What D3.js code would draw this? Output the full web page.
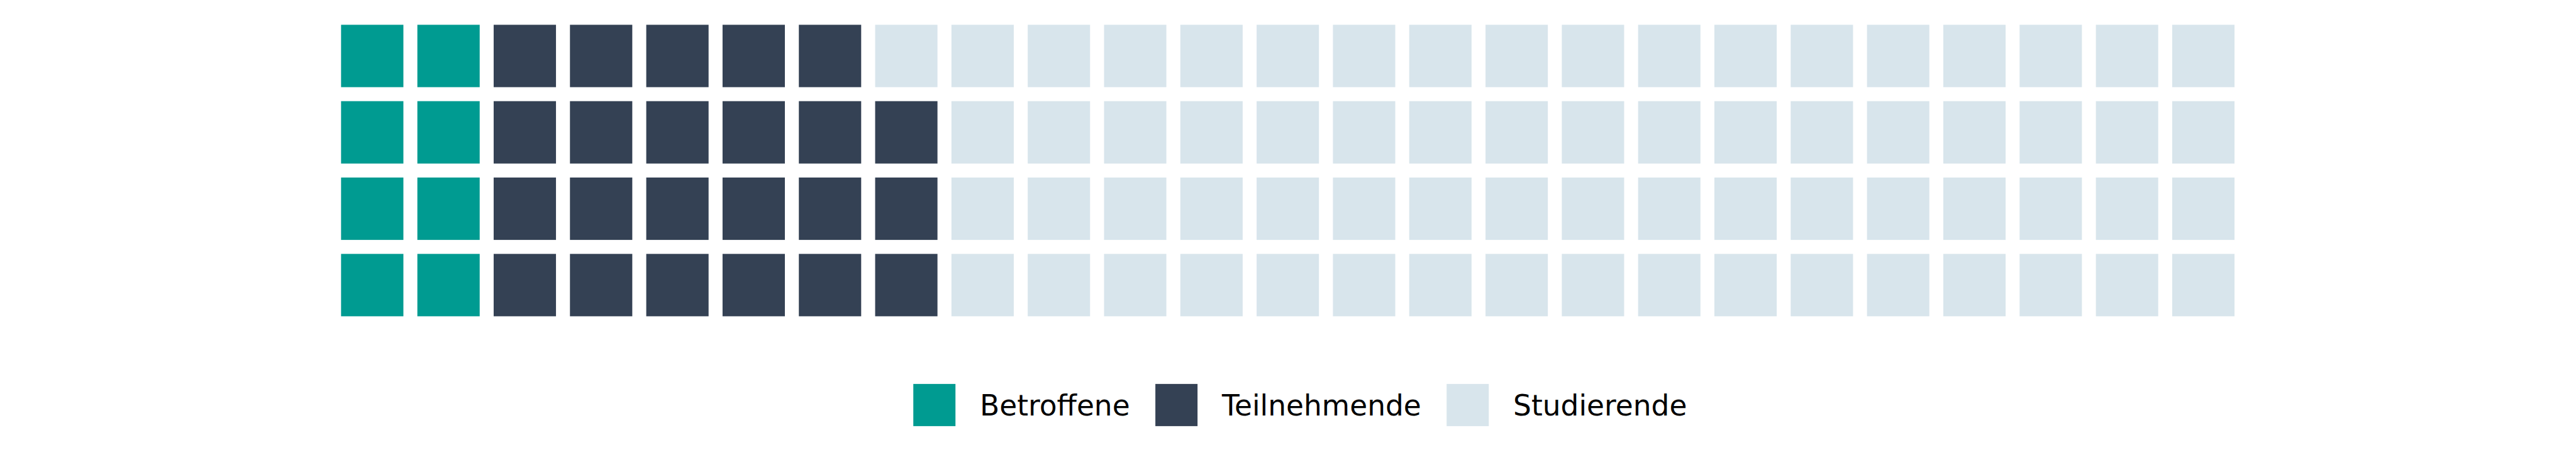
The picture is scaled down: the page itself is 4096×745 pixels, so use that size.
<!DOCTYPE html>
<html>
<head>
<meta charset="utf-8">
<script src="https://cdn.jsdelivr.net/npm/d3@7"></script>
<style>
  html, body { margin: 0; padding: 0; background: #ffffff; overflow: hidden; }
  svg { display: block; }
</style>
</head>
<body>
<svg id="chart" width="4096" height="745"></svg>
<script>
// ---- data ----
const categories = ["Betroffene", "Teilnehmende", "Studierende"];
const values = [8, 23, 69];
const colors = ["#009b91", "#344154", "#d8e5ec"];
const nRows = 4;
const nCols = 25;

// ---- layout (reference px, scaled) ----
const W = 4096, H = 745;
const s = W / 7700;
const pitch = 228.06, cell = 186.3;
const gapFrac = (pitch - cell) / pitch;
const gridLeft = 1019.5 - (pitch - cell) / 2;
const gridTop = 74 - (pitch - cell) / 2;

const svg = d3.select("#chart");

const x = d3.scaleBand()
  .domain(d3.range(nCols))
  .range([gridLeft * s, (gridLeft + nCols * pitch) * s])
  .paddingInner(gapFrac)
  .paddingOuter(gapFrac / 2);

const y = d3.scaleBand()
  .domain(d3.range(nRows))
  .range([gridTop * s, (gridTop + nRows * pitch) * s])
  .paddingInner(gapFrac)
  .paddingOuter(gapFrac / 2);

const color = d3.scaleOrdinal().domain(categories).range(colors);

// build cells: column-major, filling each column from bottom to top
const cells = [];
let idx = 0;
categories.forEach((c, ci) => {
  for (let k = 0; k < values[ci]; k++) {
    const col = Math.floor(idx / nRows);
    const row = nRows - 1 - (idx % nRows);
    cells.push({ cat: c, col, row });
    idx++;
  }
});

svg.append("g")
  .selectAll("rect")
  .data(cells)
  .join("rect")
  .attr("x", d => x(d.col))
  .attr("y", d => y(d.row))
  .attr("width", x.bandwidth())
  .attr("height", y.bandwidth())
  .attr("fill", d => color(d.cat));

// ---- legend ----
const sw = 126 * s;
const legY = 1146.5 * s;
const fontSize = 85.5 * s;
const gapText = 73 * s;
const gapItem = 76 * s;
const legend = svg.append("g");
let lx = 2730 * s;
categories.forEach((c, i) => {
  legend.append("rect")
    .attr("x", lx).attr("y", legY)
    .attr("width", sw).attr("height", sw)
    .attr("fill", color(c));
  const t = legend.append("text")
    .attr("x", lx + sw + gapText)
    .attr("y", 1240.5 * s)
    .attr("font-family", "DejaVu Sans")
    .attr("font-size", fontSize)
    .attr("fill", "#000")
    .text(c);
  const tw = t.node().getComputedTextLength();
  lx = lx + sw + gapText + tw + gapItem;
});
</script>
</body>
</html>
